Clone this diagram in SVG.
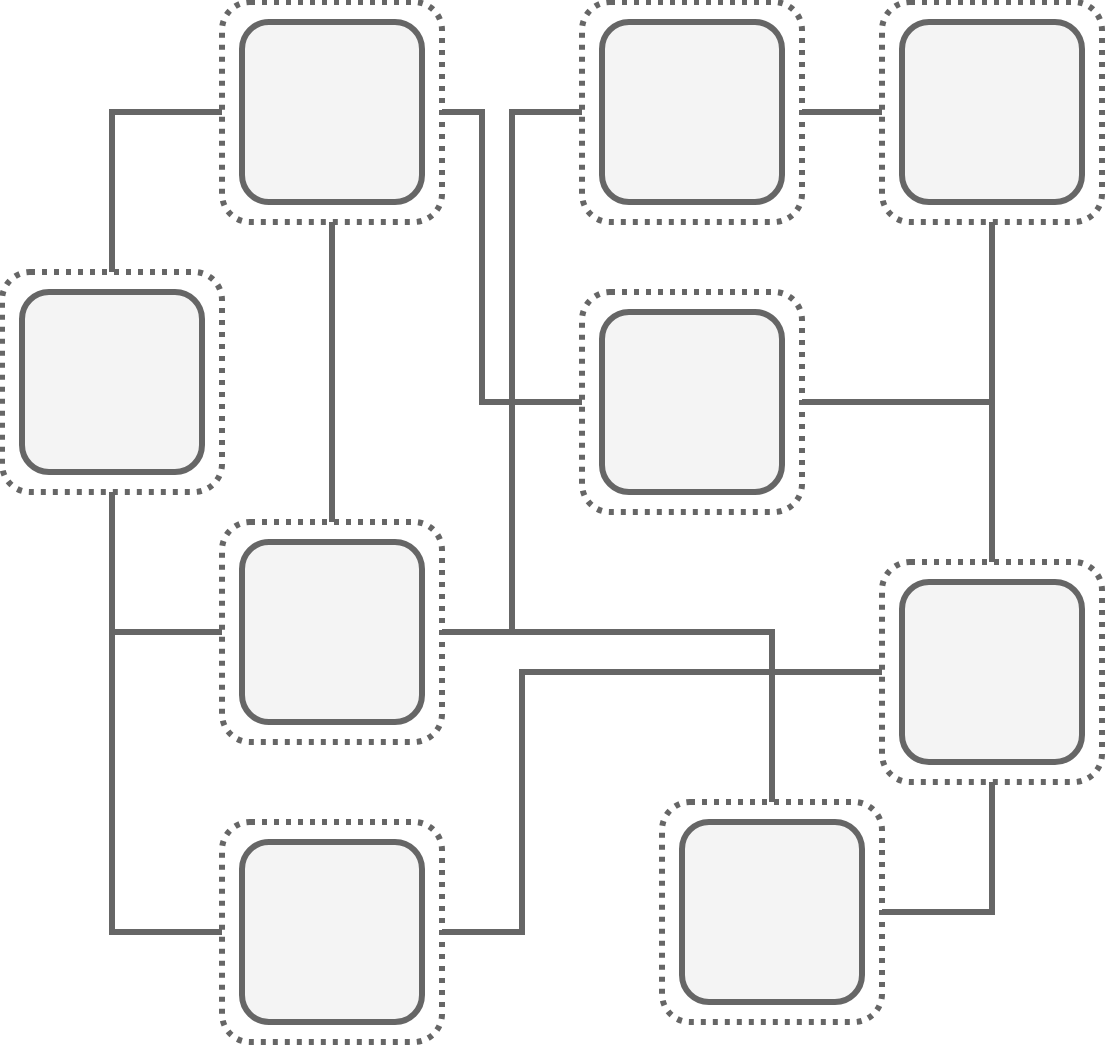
<svg xmlns="http://www.w3.org/2000/svg" width="1105" height="1046" viewBox="0 0 1105 1046">
<style>
.outer{fill:none;stroke:#666666;stroke-width:6;stroke-dasharray:5 7}
.inner{fill:#f4f4f4;stroke:#666666;stroke-width:6}
.edge{fill:none;stroke:#666666;stroke-width:6}
</style>
<defs>
<g id="node">
<rect class="outer" x="0" y="0" width="220" height="220" rx="28" ry="28"/>
<rect class="inner" x="20" y="20" width="180" height="180" rx="27" ry="27"/>
</g>
</defs>
<rect width="1105" height="1046" fill="#ffffff"/>
<g id="connectors">
<path class="edge" d="M112 272 V112 H222"/>
<path class="edge" d="M442 112 H482 V402 H582"/>
<path class="edge" d="M332 222 V522"/>
<path class="edge" d="M582 112 H512 V632 H442"/>
<path class="edge" d="M442 632 H772 V802"/>
<path class="edge" d="M802 112 H882"/>
<path class="edge" d="M992 222 V562"/>
<path class="edge" d="M802 402 H992"/>
<path class="edge" d="M882 672 H522 V932 H442"/>
<path class="edge" d="M992 782 V912 H882"/>
<path class="edge" d="M112 492 V932 H222"/>
<path class="edge" d="M112 632 H222"/>
</g>
<g id="nodeA"><use href="#node" x="222" y="2"/></g>
<g id="nodeB"><use href="#node" x="582" y="2"/></g>
<g id="nodeC"><use href="#node" x="882" y="2"/></g>
<g id="nodeD"><use href="#node" x="2" y="272"/></g>
<g id="nodeE"><use href="#node" x="582" y="292"/></g>
<g id="nodeF"><use href="#node" x="222" y="522"/></g>
<g id="nodeG"><use href="#node" x="882" y="562"/></g>
<g id="nodeH"><use href="#node" x="222" y="822"/></g>
<g id="nodeI"><use href="#node" x="662" y="802"/></g>
</svg>
